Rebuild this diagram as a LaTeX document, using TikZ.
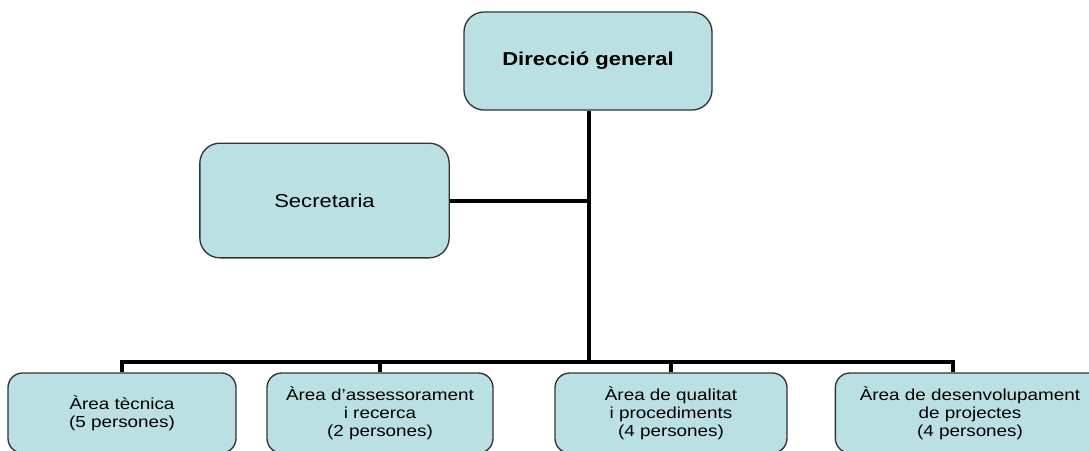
\documentclass[tikz,border=0pt]{standalone}
\usepackage{fontspec}
\setmainfont{Liberation Sans}[FakeStretch=1.18]
\definecolor{boxfill}{RGB}{187,224,227}
\begin{document}
\begin{tikzpicture}[x=0.75pt, y=-0.75pt,
    box/.style={draw=black!80, fill=boxfill, line width=1pt, rounded corners=11pt,
        align=center, inner sep=0pt, font=\fontsize{12}{13.7}\selectfont},
    bigbox/.style={box, rounded corners=15pt, font=\fontsize{14}{16}\selectfont},
    conn/.style={line width=3pt, line join=miter}]
    \useasboundingbox (0,0) rectangle (1089,450);

    % direccio i secretaria
    \node[bigbox, minimum width=186pt, minimum height=73.5pt] (dir) at (588,61) {\bfseries Direcció general};
    \node[bigbox, minimum width=187pt, minimum height=86pt] (sec) at (324.5,200.5) {Secretaria};

    % arees
    \node[box, minimum width=171pt, minimum height=60pt] (b1) at (122,413) {Àrea tècnica\\(5 persones)};
    \node[box, minimum width=169.5pt, minimum height=60pt] (b2) at (380,413) {Àrea d’assessorament\\i recerca\\(2 persones)};
    \node[box, minimum width=174pt, minimum height=60pt] (b3) at (671,413) {Àrea de qualitat\\i procediments\\(4 persones)};
    \node[box, minimum width=202pt, minimum height=60pt] (b4) at (970,413) {Àrea de desenvolupament\\de projectes\\(4 persones)};

    \coordinate (bus) at (589,362);
    \coordinate (drop4) at (953,362);

    \draw[conn] (dir.south -| bus) -- (bus);
    \draw[conn] (sec.east) -- (sec.east -| bus);
    \draw[conn] (b1.north) |- (drop4) -- (drop4 |- b4.north);
    \foreach \b in {b2,b3}
    {
        \draw[conn] (\b.north) -- (\b.north |- bus);
    }
\end{tikzpicture}
\end{document}
